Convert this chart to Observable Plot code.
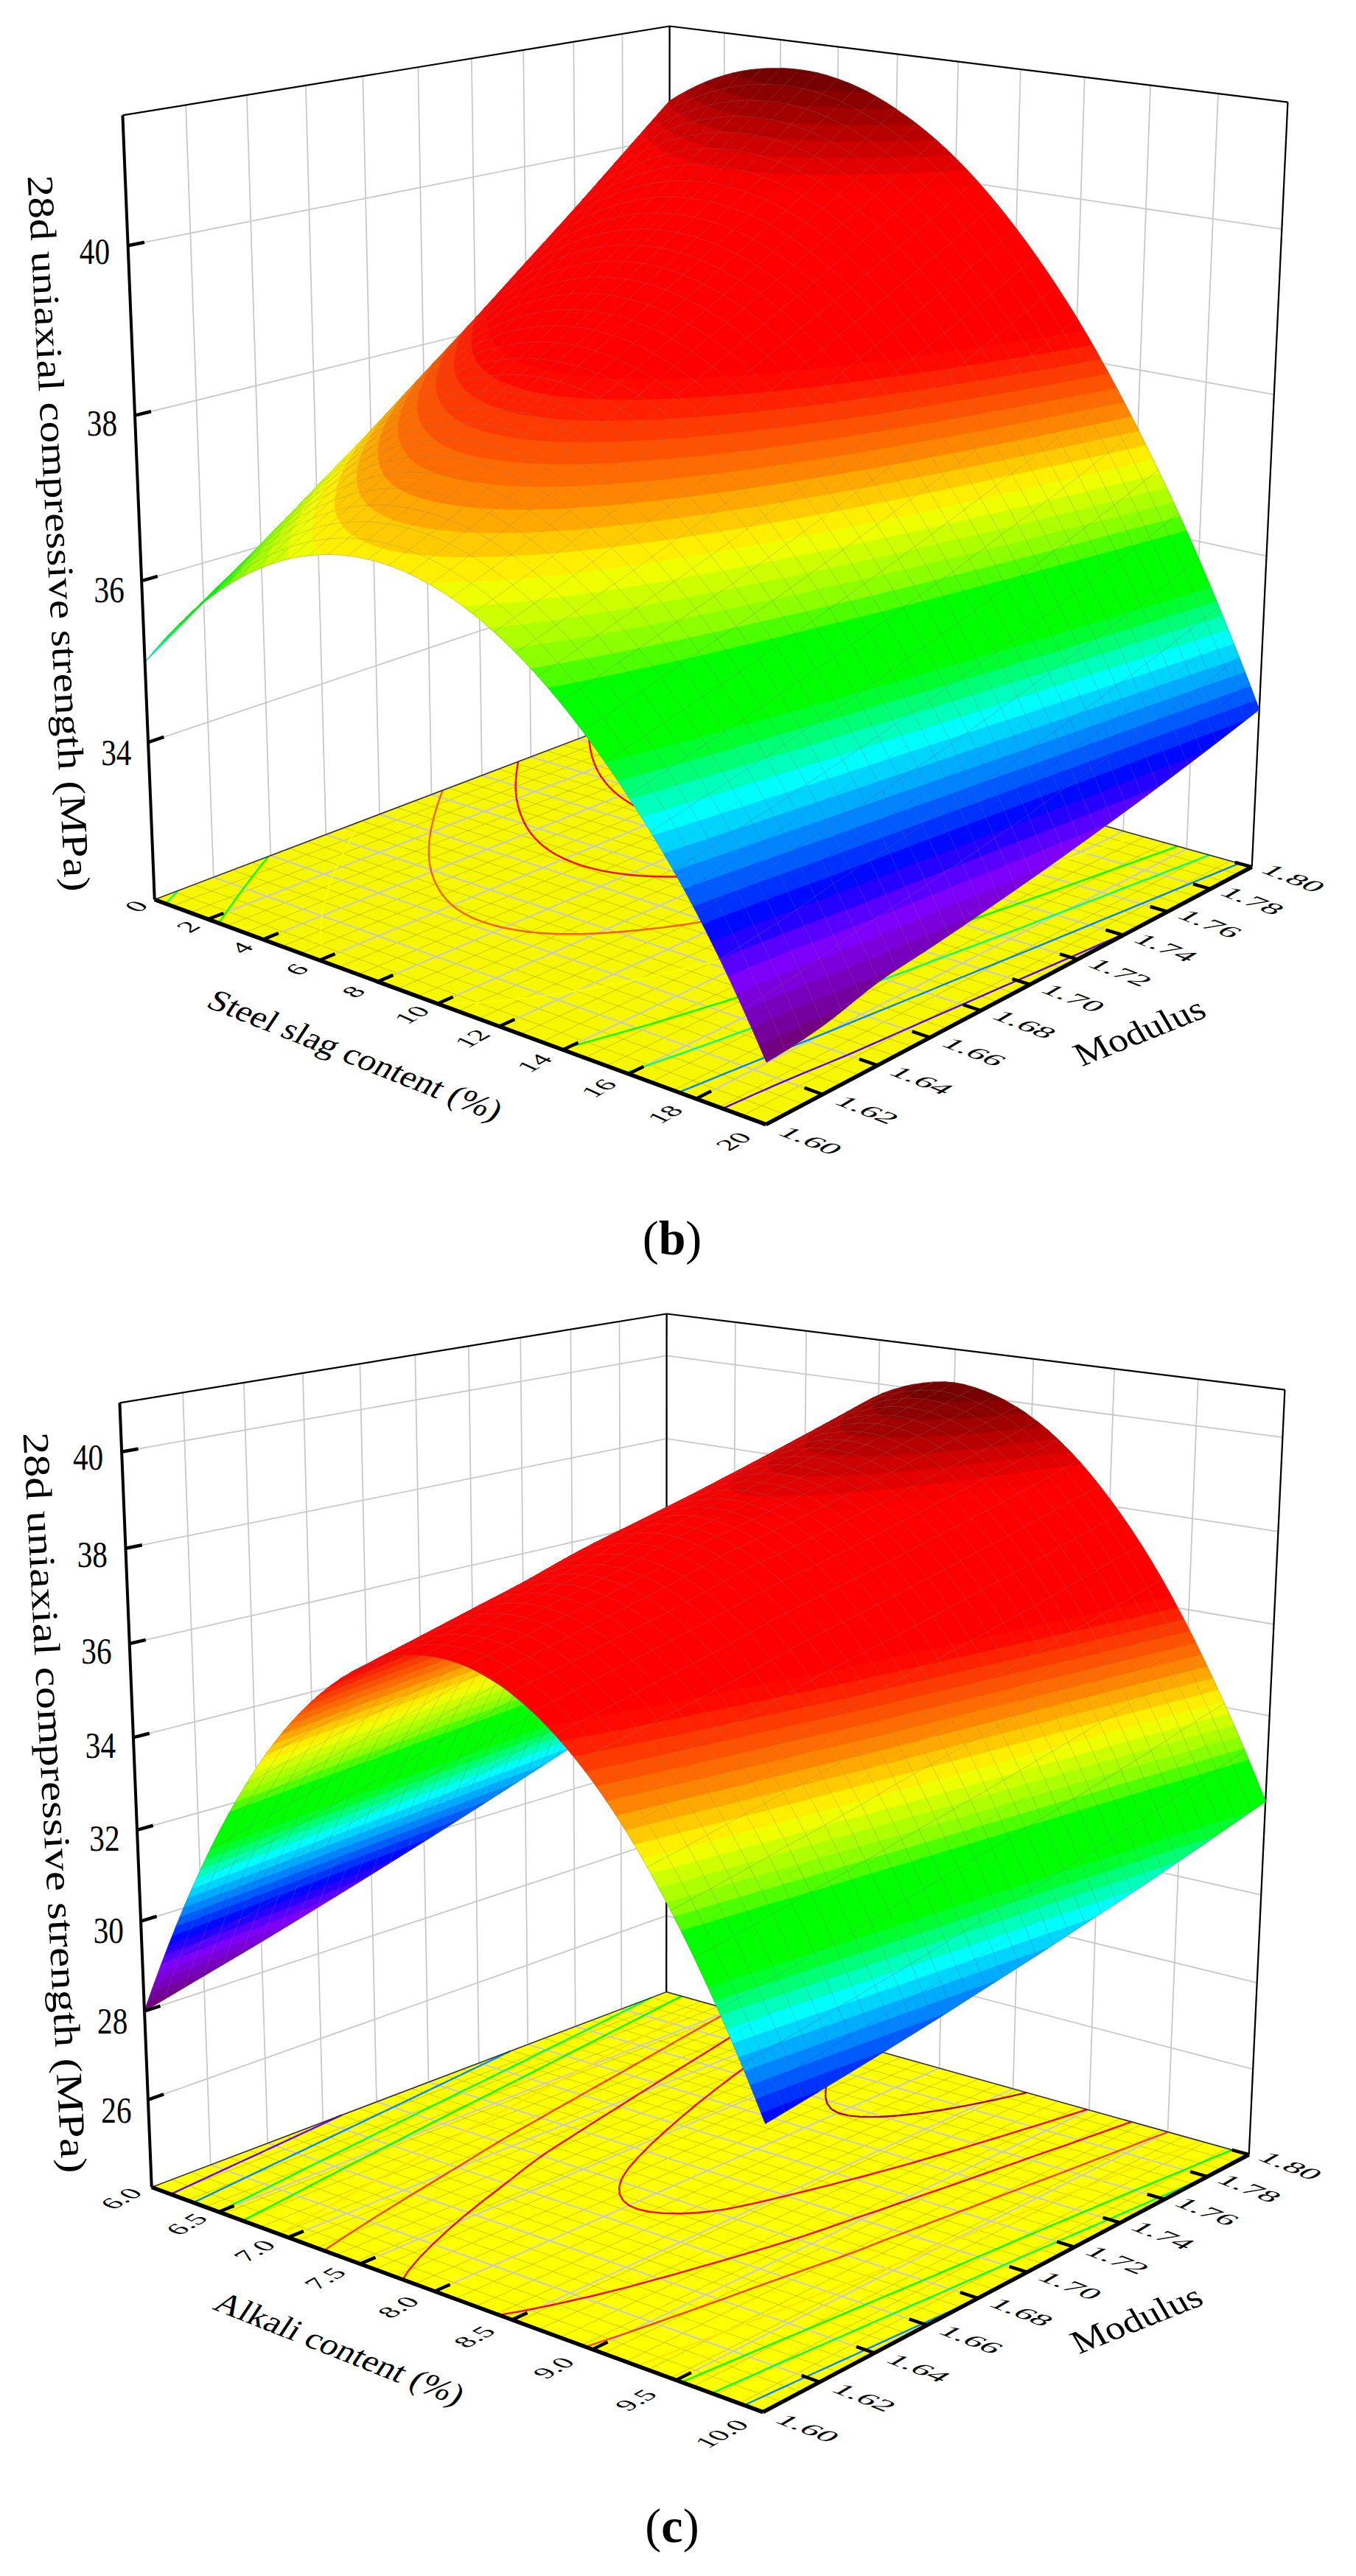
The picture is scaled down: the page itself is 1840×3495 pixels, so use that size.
<!DOCTYPE html>
<html><head><meta charset="utf-8">
<style>
html,body{margin:0;padding:0;background:#fff}
.cap{width:1840px;height:127px;line-height:120px;text-align:center;font-family:"Liberation Serif",serif;font-size:66px;color:#000;box-sizing:border-box;padding-right:16px}
svg{display:block}
</style>
<script src="https://cdn.jsdelivr.net/npm/d3@7"></script>
<script src="https://cdn.jsdelivr.net/npm/@observablehq/plot@0.6"></script>
</head><body><div id="root"></div>
<script>
// ---------- values ----------
const modulusTicks = [1.60,1.62,1.64,1.66,1.68,1.70,1.72,1.74,1.76,1.78,1.80];
const slagTicks = [0,2,4,6,8,10,12,14,16,18,20];
const alkaliTicks = [6.0,6.5,7.0,7.5,8.0,8.5,9.0,9.5,10.0];
const strengthTicksB = [34,36,38,40];
const strengthTicksC = [26,28,30,32,34,36,38,40];
const strengthBoxB = [32, 41.5];
const strengthBoxC = [24, 41];

// rows: modulus 1.60 … 1.80; columns: steel slag 0 … 20 %
const strengthB = [
[35.00,35.86,36.48,36.86,37.00,36.90,36.56,35.98,35.16,34.10,32.70],
[35.51,36.32,36.90,37.24,37.33,37.19,36.81,36.19,35.33,34.22,32.79],
[36.02,36.80,37.33,37.63,37.68,37.50,37.07,36.41,35.50,34.36,32.97],
[36.55,37.28,37.77,38.02,38.04,37.81,37.34,36.63,35.69,34.50,33.07],
[37.08,37.77,38.22,38.43,38.40,38.13,37.62,36.87,35.88,34.65,33.18],
[37.63,38.27,38.68,38.85,38.78,38.46,37.91,37.12,36.09,34.81,33.30],
[38.18,38.79,39.15,39.28,39.16,38.81,38.21,37.38,36.30,34.99,33.43],
[38.75,39.31,39.63,39.71,39.56,39.16,38.52,37.64,36.53,35.17,33.57],
[39.32,39.84,40.12,40.16,39.96,39.52,38.84,37.92,36.76,35.36,33.72],
[39.91,40.38,40.62,40.62,40.37,39.89,39.17,38.21,37.00,35.56,33.88],
[40.50,40.94,41.13,41.09,40.80,40.28,39.51,38.51,37.26,35.78,34.05]];

// rows: modulus 1.60 … 1.80; columns: alkali 6.00 … 10.00 % in steps of 0.25
const strengthC = [
[28.00,30.03,31.81,33.33,34.60,35.60,36.35,36.85,37.08,37.06,36.78,36.24,35.45,34.40,33.09,31.52,29.70],
[28.35,30.38,32.16,33.68,34.95,35.95,36.68,37.17,37.39,37.36,37.06,36.52,35.71,34.64,33.31,31.72,29.89],
[28.70,30.74,32.53,34.04,35.30,36.29,37.02,37.50,37.72,37.66,37.36,36.79,35.96,34.89,33.55,31.95,30.09],
[29.07,31.11,32.89,34.39,35.65,36.64,37.36,37.81,38.02,37.96,37.65,37.08,36.23,35.13,33.78,32.17,30.30],
[29.45,31.49,33.28,34.79,36.04,37.03,37.74,38.19,38.40,38.32,37.99,37.39,36.53,35.42,34.04,32.41,30.53],
[29.84,31.87,33.64,35.14,36.38,37.35,38.05,38.49,38.68,38.59,38.24,37.64,36.77,35.65,34.28,32.64,30.76],
[30.24,32.25,34.01,35.50,36.72,37.68,38.36,38.79,38.97,38.87,38.51,37.90,37.03,35.90,34.53,32.88,31.01],
[30.65,32.65,34.39,35.86,37.08,38.02,38.69,39.10,39.27,39.16,38.81,38.18,37.30,36.16,34.78,33.14,31.26],
[31.07,33.06,34.79,36.24,37.44,38.37,39.03,39.42,39.59,39.47,39.10,38.46,37.57,36.43,35.05,33.40,31.53],
[31.51,33.48,35.19,36.64,37.82,38.73,39.38,39.76,39.91,39.78,39.40,38.75,37.86,36.72,35.32,33.69,31.81],
[31.95,33.91,35.61,37.04,38.21,39.11,39.74,40.11,40.25,40.10,39.71,39.06,38.15,37.01,35.61,33.97,32.10]];

// contour levels drawn on the floor
const levelsB = [33.6,34.4,35.2,36.0,36.9,37.75,38.6,39.45,40.3];
const levelsC = [29.2,30.5,31.8,32.9,34.3,35.6,36.9,38.2,39.5];

// colour ramp: share of the strength range -> colour
const rampShare = [0,0.09,0.14,0.26,0.33,0.41,0.415,0.50,0.57,0.67,0.87,1];
const rampColor = ["#700070","#7f00ff","#0000ff","#00ffff","#00ff00","#00ff00","#70ff00","#ffff00","#ff8000","#ff0000","#ff0000","#6b0000"];

// ---------- camera: fitted to where the box corners sit in the view ----------
const viewCorners = [[0,0,0,209,1220],[1,0,0,1039,1525],[1,1,0,1698,1176],[0,1,0,908,955],[0,0,1,166,156],[0,1,1,908,35],[1,1,1,1747,138]];
function fitCamera(pairs){
  const A=[],b=[];
  for(const [u,v,w,X0,Y0] of pairs){
    const X=X0/1000,Y=Y0/1000;
    A.push([1,u,v,w,0,0,0,0,-X*u,-X*v,-X*w]);b.push(X);
    A.push([0,0,0,0,1,u,v,w,-Y*u,-Y*v,-Y*w]);b.push(Y);
  }
  const n=11,N=d3.range(n).map(i=>d3.range(n+1).map(j=>0));
  A.forEach((r,k)=>{for(let i=0;i<n;i++){for(let j=0;j<n;j++)N[i][j]+=r[i]*r[j];N[i][n]+=r[i]*b[k];}});
  for(let c=0;c<n;c++){
    let p=c;for(let r=c+1;r<n;r++)if(Math.abs(N[r][c])>Math.abs(N[p][c]))p=r;
    [N[c],N[p]]=[N[p],N[c]];
    for(let r=0;r<n;r++){if(r===c)continue;const f=N[r][c]/N[c][c];for(let j=c;j<=n;j++)N[r][j]-=f*N[c][j];}
  }
  return N.map((r,i)=>r[n]/r[i]);
}
const cam=fitCamera(viewCorners);
function project(u,v,w,dx=0){
  const d=1+cam[8]*u+cam[9]*v+cam[10]*w;
  return [1000*(cam[0]+cam[1]*u+cam[2]*v+cam[3]*w)/d+dx,1000*(cam[4]+cam[5]*u+cam[6]*v+cam[7]*w)/d];
}

const ramp=d3.scaleLinear().domain(rampShare).range(rampColor).interpolate(d3.interpolateRgb).clamp(true);
const serif='"Liberation Serif","Times New Roman",serif';
const GRID="#c9c9c9";
const cubic=(a,b,c,d,t)=>b+0.5*t*(c-a+t*(2*a-5*b+4*c-d+t*(3*(b-c)+d-a)));
// smooth sheet through the values read at the grid points
function sheet(table){
  const rows=table.length,cols=table[0].length;
  const along=(arr,x)=>{
    const n=arr.length,i=Math.min(Math.floor(x),n-2),t=x-i;
    const g=k=>k<0?3*arr[0]-3*arr[1]+arr[2]:k>=n?3*arr[n-1]-3*arr[n-2]+arr[n-3]:arr[k];
    return cubic(g(i-1),g(i),g(i+1),g(i+2),t);
  };
  return (u,v)=>{
    const x=u*(cols-1),y=v*(rows-1);
    return along(table.map(r=>along(r,x)),y);
  };
}

function panel(o){
  const {table,box,levels,xTicks,zTicks,dx,floor,zmin,zmax}=o;
  const P=(u,v,w)=>project(u,v,w,dx);
  const W=z=>(z-box[0])/(box[1]-box[0]);
  const zAt0=sheet(table);
  const M=60,MESH=2,step=(zmax-zmin)/52;
  // value of the sheet at every drawing vertex
  const zGrid=d3.range(M+1).map(i=>d3.range(M+1).map(j=>zAt0(i/M,j/M)));
  const vtx=(i,j)=>[i/M,j/M,zGrid[i][j]];
  const seg=(a,b,extra={})=>{const p=P(...a),q=P(...b);return {x1:p[0],y1:p[1],x2:q[0],y2:q[1],...extra};};
  const colorAt=z=>ramp((z-zmin)/(zmax-zmin));

  // walls
  const wall=[];
  xTicks.forEach((_,i)=>{const u=i/(xTicks.length-1);wall.push(seg([u,1,0],[u,1,1]));});
  modulusTicks.forEach((_,i)=>{const v=i/(modulusTicks.length-1);wall.push(seg([0,v,0],[0,v,1]));});
  zTicks.forEach(t=>{const w=W(t);wall.push(seg([0,0,w],[0,1,w]),seg([0,1,w],[1,1,w]));});

  // floor
  const floorPoly=[[0,0],[1,0],[1,1],[0,1],[0,0]].map(([u,v])=>{const p=P(u,v,0);return {x:p[0],y:p[1]};});
  const fine=[],major=[];
  for(let i=0;i<=M/MESH;i++){const t=i*MESH/M;fine.push(seg([t,0,0],[t,1,0]),seg([0,t,0],[1,t,0]));}
  xTicks.forEach((_,i)=>{const u=i/(xTicks.length-1);major.push(seg([u,0.03,0],[u,1,0]));});
  modulusTicks.forEach((_,i)=>{const v=i/(modulusTicks.length-1);major.push(seg([0,v,0],[0.97,v,0]));});

  // contours on the floor
  const contour=[];
  for(let i=0;i<M;i++)for(let j=0;j<M;j++){
    const c=[vtx(i,j),vtx(i+1,j),vtx(i+1,j+1),vtx(i,j+1)];
    for(const L of levels){
      const pts=[];
      for(let k=0;k<4;k++){
        const a=c[k],b=c[(k+1)%4];
        if((a[2]<L)!==(b[2]<L)){const t=(L-a[2])/(b[2]-a[2]);pts.push([a[0]+(b[0]-a[0])*t,a[1]+(b[1]-a[1])*t,0]);}
      }
      for(let k=0;k+1<pts.length;k+=2)contour.push(seg(pts[k],pts[k+1],{c:colorAt(L)}));
    }
  }

  // surface, painted from the far corner to the near one
  const surf=[];let id=0;
  const clip=(poly,L,keepAbove)=>{
    const out=[];
    for(let k=0;k<poly.length;k++){
      const a=poly[k],b=poly[(k+1)%poly.length];
      const ia=keepAbove?a[2]>=L:a[2]<=L,ib=keepAbove?b[2]>=L:b[2]<=L;
      if(ia)out.push(a);
      if(ia!==ib){const t=(L-a[2])/(b[2]-a[2]);out.push([a[0]+(b[0]-a[0])*t,a[1]+(b[1]-a[1])*t,L]);}
    }
    return out;
  };
  const pushPoly=(poly,fill,stroke,sw,closed=true)=>{
    id++;
    (closed?[...poly,poly[0]]:poly).forEach(q=>{const p=P(q[0],q[1],W(q[2]));surf.push({x:p[0],y:p[1],id,fill,stroke,sw});});
  };
  const MESHC="rgba(120,120,120,0.33)";
  for(let i=0;i<M;i++)for(let j=M-1;j>=0;j--){
    const quad=[vtx(i,j),vtx(i+1,j),vtx(i+1,j+1),vtx(i,j+1)];
    const lo=d3.min(quad,d=>d[2]),hi=d3.max(quad,d=>d[2]);
    const k0=Math.floor((lo-zmin)/step),k1=Math.floor((hi-zmin)/step);
    if(k0===k1){const col=colorAt(zmin+k0*step+step/2);pushPoly(quad,col,col,0.7);}
    else{
      const base=colorAt(zmin+k0*step+step/2);pushPoly(quad,base,base,0.7);
      for(let k=k0;k<=k1;k++){
        const a=zmin+k*step,b=a+step;
        let poly=clip(quad,a,true);if(poly.length>2)poly=clip(poly,b,false);
        if(poly.length>2){const col=colorAt(a+step/2);pushPoly(poly,col,col,0.7);}
      }
    }
    if(i%MESH===0)pushPoly([vtx(i,j),vtx(i,j+1)],"none",MESHC,0.9,false);
    if((j+1)%MESH===0)pushPoly([vtx(i,j+1),vtx(i+1,j+1)],"none",MESHC,0.9,false);
    if(i===M-1)pushPoly([vtx(M,j),vtx(M,j+1)],"none",MESHC,0.9,false);
    if(j===0)pushPoly([vtx(i,0),vtx(i+1,0)],"none",MESHC,0.9,false);
  }

  // box edges and axes
  const tickLen=0.026;
  const ticks=[];
  xTicks.forEach((_,i)=>{const u=i/(xTicks.length-1);if(i>0)ticks.push(seg([u,0,0],[u,tickLen,0]));});
  modulusTicks.forEach((_,i)=>{const v=i/(modulusTicks.length-1);if(i>0)ticks.push(seg([1,v,0],[1-tickLen,v,0]));});
  zTicks.forEach(t=>{const w=W(t);ticks.push(seg([0,0,w],[0,tickLen,w]));});
  const backFloor=[seg([0,0,0],[0,1,0]),seg([0,1,0],[1,1,0])];
  const thin=[seg([0,1,0],[0,1,1]),seg([1,1,0],[1,1,1]),seg([0,0,1],[0,1,1]),seg([0,1,1],[1,1,1])];
  const axisFront=[seg([0,0,0],[1,0,0]),seg([1,0,0],[1,1,0])];
  const axisLeft=[seg([0,0,0],[0,0,1])];

  // labels
  const at=(u,v,w,text)=>{const p=P(u,v,w);return {x:p[0],y:p[1],text};};
  const xLabels=xTicks.map((t,i)=>{const u=i/(xTicks.length-1);return at(u,o.xLabelV[0]+(o.xLabelV[1]-o.xLabelV[0])*u,0,o.xFormat(t));});
  const mLabels=modulusTicks.map((t,i)=>at(1.062,i/(modulusTicks.length-1),0,t.toFixed(2)));
  const zLabels=zTicks.map(t=>at(0,-0.052,W(t),String(t)));
  const xy={x:"x",y:"y",text:"text",fontFamily:serif,fill:"#000",textAnchor:"middle",lineAnchor:"middle"};

  const svg=Plot.plot({
    width:1840,height:1620,margin:0,
    x:{domain:[0,1840],range:[0,1840],axis:null},
    y:{domain:[0,1620],range:[0,1620],axis:null},
    color:{type:"identity"},
    marks:[
      Plot.link(wall,{x1:"x1",y1:"y1",x2:"x2",y2:"y2",stroke:GRID,strokeWidth:1.8}),
      Plot.line(floorPoly,{x:"x",y:"y",fill:floor,stroke:"none"}),
      Plot.link(fine,{x1:"x1",y1:"y1",x2:"x2",y2:"y2",stroke:"#b0b000",strokeOpacity:0.65,strokeWidth:1}),
      Plot.link(major,{x1:"x1",y1:"y1",x2:"x2",y2:"y2",stroke:GRID,strokeWidth:2}),
      Plot.link(contour,{x1:"x1",y1:"y1",x2:"x2",y2:"y2",stroke:d=>d.c,strokeWidth:2.4}),
      Plot.link(backFloor,{x1:"x1",y1:"y1",x2:"x2",y2:"y2",stroke:"#333",strokeWidth:1.5}),
      Plot.link(thin,{x1:"x1",y1:"y1",x2:"x2",y2:"y2",stroke:"#000",strokeWidth:2.2}),
      Plot.line(surf,{x:"x",y:"y",z:"id",fill:d=>d.fill,stroke:d=>d.stroke,strokeWidth:d=>d.sw}),
      Plot.link(axisFront,{x1:"x1",y1:"y1",x2:"x2",y2:"y2",stroke:"#000",strokeWidth:5.5}),
      Plot.link(axisLeft,{x1:"x1",y1:"y1",x2:"x2",y2:"y2",stroke:"#000",strokeWidth:4}),
      Plot.link(ticks,{x1:"x1",y1:"y1",x2:"x2",y2:"y2",stroke:"#000",strokeWidth:4.5}),
      Plot.text(xLabels,{...xy,fontSize:38,className:"lab-x"}),
      Plot.text(mLabels,{...xy,fontSize:40,className:"lab-m"}),
      Plot.text(zLabels,{...xy,fontSize:48,className:"lab-z"}),
      Plot.text([at(...o.xTitleAt,o.xTitle)],{...xy,fontSize:48,className:"title-x"}),
      Plot.text([at(...o.mTitleAt,"Modulus")],{...xy,fontSize:52,className:"title-m"}),
      Plot.text([at(0,-0.127,o.zTitleW,"28d uniaxial compressive strength (MPa)")],{...xy,fontSize:50,rotate:87,className:"title-z"})
    ]
  });
  const skew=(cls,m)=>svg.querySelectorAll(`.${cls} text`).forEach(t=>t.setAttribute("transform",(t.getAttribute("transform")||"")+` ${m}`));
  skew("lab-x","matrix(0.87,-0.48,0.80,0.36,0,0)");
  skew("lab-m","matrix(1.08,0.42,-0.68,0.40,0,0)");
  skew("lab-z","matrix(0.86,0,0,1.06,0,0)");
  skew("title-x","matrix(0.93,0.37,-0.50,0.75,0,0)");
  skew("title-m","matrix(0.93,-0.37,0.45,0.77,0,0)");
  skew("title-z",`scale(${o.zTitleScale},1)`);
  return svg;
}

const root=document.getElementById("root");
function caption(letter){
  const d=document.createElement("div");d.className="cap";
  d.innerHTML=`(<b>${letter}</b>)`;root.appendChild(d);
}
root.appendChild(panel({table:strengthB,box:strengthBoxB,levels:levelsB,xTicks:slagTicks,zTicks:strengthTicksB,dx:0,floor:"#f7f700",zmin:32.7,zmax:41.13,
  xFormat:t=>String(t),xLabelV:[-0.03,-0.055],xTitle:"Steel slag content (%)",xTitleAt:[0.53,-0.165,0],mTitleAt:[1.176,0.47,0],zTitleW:0.51,zTitleScale:1.18}));
caption("b");
root.appendChild(panel({table:strengthC,box:strengthBoxC,levels:levelsC,xTicks:alkaliTicks,zTicks:strengthTicksC,dx:-4,floor:"#ffff00",zmin:28,zmax:40.25,
  xFormat:t=>t.toFixed(1),xLabelV:[-0.05,-0.07],xTitle:"Alkali content (%)",xTitleAt:[0.53,-0.185,0],mTitleAt:[1.176,0.47,0],zTitleW:0.533,zTitleScale:1.22}));
caption("c");
</script></body></html>
